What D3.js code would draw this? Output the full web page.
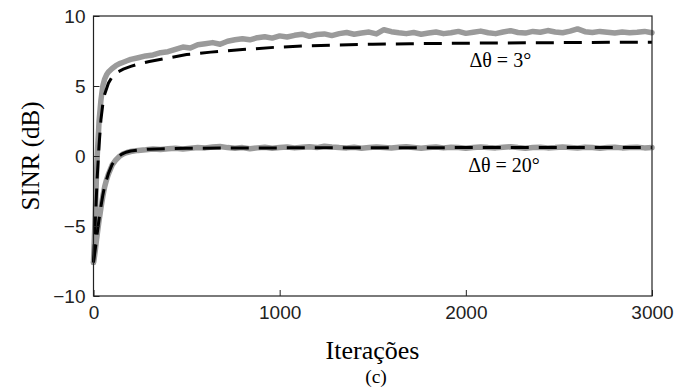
<!DOCTYPE html>
<html>
<head>
<meta charset="utf-8">
<script src="https://cdn.jsdelivr.net/npm/d3@7"></script>
<style>
body { margin: 0; background: #fff; }
</style>
</head>
<body>
<div id="screen"></div>
<script>
//iteration grid of the simulated (gray) curves
var grayIter = [0,5,10,15,20,30,40,50,60,70,80,100,120,140,160,180,200,
    240,280,320,360,400,440,480,520,560,600,640,680,720,760,800,840,880,920,960,1000,
    1040,1080,1120,1160,1200,1240,1280,1320,1360,1400,1440,1480,1520,1560,1600,1640,1680,1720,1760,1800,
    1840,1880,1920,1960,2000,2040,2080,2120,2160,2200,2240,2280,2320,2360,2400,2440,2480,2520,2560,2600,
    2640,2680,2720,2760,2800,2840,2880,2920,2960,3000];

//simulated SINR, delta theta = 3 deg
var gray3 = [-7.6,-5.8,-4.0,-1.8,0.0,2.5,4.0,5.0,5.5,5.8,6.0,6.25,6.45,6.6,6.7,6.8,6.9,
    7.02,7.15,7.22,7.38,7.45,7.62,7.78,7.72,7.95,8.02,8.1,7.98,8.2,8.3,8.38,8.3,8.45,8.52,8.42,8.58,
    8.5,8.62,8.7,8.55,8.68,8.72,8.6,8.74,8.82,8.7,8.78,8.85,8.72,9.02,8.88,8.8,8.74,8.82,8.7,8.78,
    8.86,8.74,8.8,8.9,8.76,8.84,8.92,8.8,8.74,8.86,8.95,8.82,8.78,8.9,8.84,8.96,8.86,8.8,8.92,9.08,
    8.88,8.82,8.9,8.84,8.78,8.86,8.8,8.84,8.9,8.8];

//simulated SINR, delta theta = 20 deg
var gray20 = [-7.6,-7.2,-6.7,-6.1,-5.6,-4.6,-3.7,-2.9,-2.2,-1.7,-1.3,-0.65,-0.28,-0.02,0.15,0.25,0.32,
    0.4,0.44,0.5,0.47,0.52,0.55,0.5,0.56,0.6,0.58,0.64,0.68,0.6,0.55,0.6,0.52,0.58,0.62,0.56,0.6,
    0.64,0.58,0.62,0.66,0.6,0.7,0.64,0.6,0.58,0.62,0.56,0.6,0.64,0.6,0.57,0.62,0.66,0.6,0.55,0.6,
    0.64,0.58,0.62,0.6,0.56,0.6,0.64,0.6,0.58,0.62,0.66,0.6,0.56,0.6,0.62,0.58,0.6,0.64,0.6,0.57,
    0.62,0.6,0.56,0.6,0.62,0.58,0.6,0.62,0.58,0.6];

//theoretical curves (dashed)
var theoIter3 = [0,10,20,30,40,50,60,80,100,130,160,200,250,300,400,500,630,800,970,1150,1300,1500,1700,2000,2500,3000];
var theo3 = [-7.6,-4.5,-1.5,0.8,2.6,3.7,4.4,5.2,5.65,6.0,6.2,6.4,6.6,6.75,7.0,7.25,7.42,7.6,7.76,7.87,7.93,7.98,8.02,8.06,8.1,8.13];

var theoIter20 = [0,10,20,30,40,50,60,80,100,125,150,175,200,250,300,400,500,700,1000,1500,2000,3000];
var theo20 = [-7.6,-6.6,-5.5,-4.5,-3.6,-2.8,-2.15,-1.25,-0.6,-0.15,0.12,0.27,0.35,0.44,0.49,0.53,0.55,0.57,0.58,0.59,0.6,0.6];

//axis ticks
var xTicks = [0, 1000, 2000, 3000];
var yTicks = [-10, -5, 0, 5, 10];

//labels on the curves: text, iteration, SINR at baseline
var curveLabels = [["Δθ = 3°", 2185, 6.35], ["Δθ = 20°", 2205, -1.15]];

var W = 698, H = 387;
var LEFT = 93.5, RIGHT = 652, TOP = 16, BOTTOM = 296;
var SERIF = "'Liberation Serif', 'Times New Roman', Times, serif";

function render(){
    var svg = d3.select("#screen")
        .append("svg")
        .attr("width", W)
        .attr("height", H);

    var x = d3.scaleLinear().domain([0, 3000]).range([LEFT, RIGHT]);
    var y = d3.scaleLinear().domain([-10, 10]).range([BOTTOM, TOP]);

    //curves
    var line = d3.line().x(d => x(d[0])).y(d => y(d[1]));

    var grays = [d3.zip(grayIter, gray3), d3.zip(grayIter, gray20)];
    var dashes = [d3.zip(theoIter3, theo3), d3.zip(theoIter20, theo20)];

    svg.selectAll("path.gray")
        .data(grays)
        .enter()
        .append("path")
        .attr("class", "gray")
        .attr("d", line)
        .attr("fill", "none")
        .attr("stroke", "#9a9a9a")
        .attr("stroke-width", 5.5)
        .attr("stroke-linejoin", "round")
        .attr("stroke-linecap", "round");

    svg.selectAll("path.theo")
        .data(dashes)
        .enter()
        .append("path")
        .attr("class", "theo")
        .attr("d", line)
        .attr("fill", "none")
        .attr("stroke", "#000")
        .attr("stroke-width", 3)
        .attr("stroke-dasharray", "18,10");

    //axes, ticks pointing inward
    var fmt = d3.format("d");
    var gx = svg.append("g")
        .attr("transform", "translate(0," + BOTTOM + ")")
        .call(d3.axisBottom(x).tickValues(xTicks).tickFormat(fmt).tickSizeInner(-6).tickSizeOuter(0).tickPadding(10));
    var gy = svg.append("g")
        .attr("transform", "translate(" + LEFT + ",0)")
        .call(d3.axisLeft(y).tickValues(yTicks).tickFormat(fmt).tickSizeInner(-6).tickSizeOuter(0).tickPadding(8));

    [gx, gy].forEach(function(g){
        g.select(".domain").remove();
        g.selectAll("line").attr("stroke", "#222");
        g.selectAll("text")
            .attr("fill", "#222")
            .style("font-family", "'Liberation Sans', Arial, sans-serif")
            .style("font-size", "19px");
    });

    //box
    svg.append("rect")
        .attr("x", LEFT)
        .attr("y", TOP)
        .attr("width", RIGHT - LEFT)
        .attr("height", BOTTOM - TOP)
        .attr("fill", "none")
        .attr("stroke", "#222")
        .attr("stroke-width", 1.2);

    //curve labels
    svg.selectAll("text.lbl")
        .data(curveLabels)
        .enter()
        .append("text")
        .attr("class", "lbl")
        .attr("x", d => x(d[1]))
        .attr("y", d => y(d[2]))
        .attr("text-anchor", "middle")
        .attr("font-family", SERIF)
        .attr("font-size", 20)
        .text(d => d[0]);

    //axis titles
    svg.append("text")
        .attr("transform", "translate(39," + ((TOP + BOTTOM) / 2) + ") rotate(-90)")
        .attr("text-anchor", "middle")
        .attr("font-family", SERIF)
        .attr("font-size", 25)
        .text("SINR (dB)");

    svg.append("text")
        .attr("x", 372.5)
        .attr("y", 358.5)
        .attr("text-anchor", "middle")
        .attr("font-family", SERIF)
        .attr("font-size", 26)
        .text("Iterações");

    svg.append("text")
        .attr("x", 376)
        .attr("y", 383)
        .attr("text-anchor", "middle")
        .attr("font-family", SERIF)
        .attr("font-size", 19.5)
        .text("(c)");
}

render();
</script>
</body>
</html>
